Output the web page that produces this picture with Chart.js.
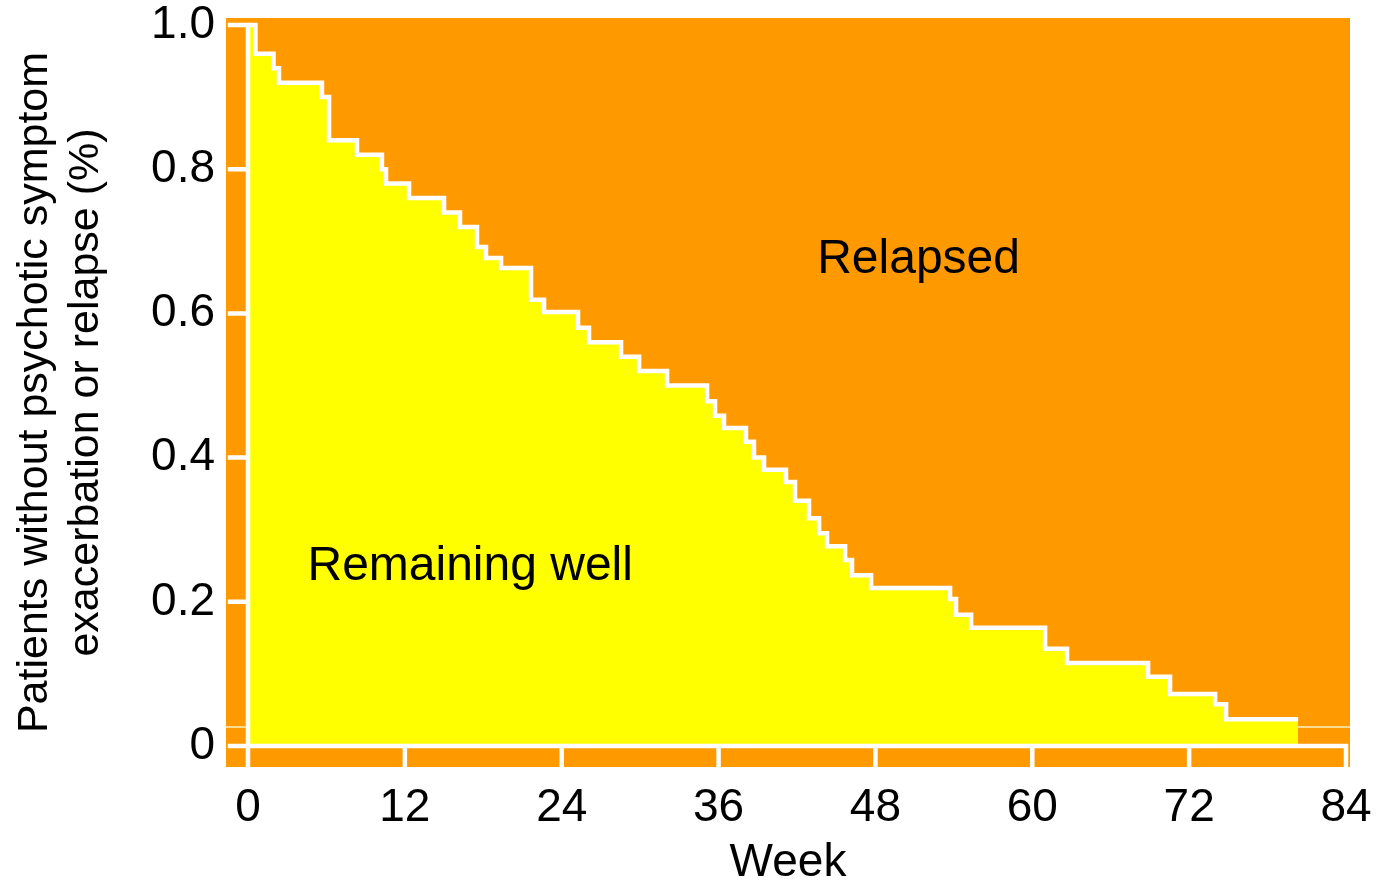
<!DOCTYPE html>
<html>
<head>
<meta charset="utf-8">
<title>Relapse-free survival</title>
<script src="https://cdn.jsdelivr.net/npm/chart.js@4.4.1/dist/chart.umd.min.js"></script>
<style>
  html, body { margin: 0; padding: 0; background: #fff; }
  #wrap { width: 1377px; height: 889px; position: relative; }
</style>
</head>
<body>
<div id="wrap"><canvas id="kmChart"></canvas></div>
<script>
// Kaplan-Meier steps (week of event, proportion still well)
const weeks = [0, 0.57, 1.95, 2.37, 5.66, 6.2, 8.34, 10.25, 10.56, 12.32, 15.0, 16.22, 17.52, 18.21, 19.36,
  21.65, 22.65, 25.25, 26.09, 28.54, 29.92, 32.06, 35.12, 35.73, 36.42, 38.1, 38.71, 39.48, 41.16, 41.85,
  42.92, 43.69, 44.3, 45.68, 46.21, 47.67, 53.71, 54.17, 55.32, 60.98, 62.66, 68.86, 70.54, 73.99, 74.83, 80.34];
const survival = [1.0, 0.96, 0.94, 0.92, 0.90, 0.84, 0.82, 0.80, 0.78, 0.76, 0.74, 0.72, 0.692, 0.677, 0.663,
  0.619, 0.602, 0.58, 0.56, 0.54, 0.52, 0.50, 0.478, 0.458, 0.441, 0.422, 0.40, 0.383, 0.366, 0.34,
  0.316, 0.295, 0.277, 0.258, 0.237, 0.219, 0.204, 0.182, 0.164, 0.135, 0.115, 0.096, 0.072, 0.058, 0.037, 0.037];

const xTicks = [0, 12, 24, 36, 48, 60, 72, 84];
const yTicks = [0, 0.2, 0.4, 0.6, 0.8, 1.0];

const areaLabels = ['Relapsed', 'Remaining well'];
const labelWeeks = [51.3, 17.0];
const labelValues = [0.675, 0.248];

// axis ranges (plot panel runs a bit past 0 and 84 / 0 and 1)
const xMin = -1.683, xMax = 84.306;
const yMin = -0.0291, yMax = 1.0097;
const tickLenX = -1.377;   // y tick marks stick out left of week 0
const tickLenY = -0.0264;  // x tick marks hang below 0

const ORANGE = '#FF9900';
const YELLOW = '#FFFF00';
const FONT = "'Liberation Sans', Arial, Helvetica, sans-serif";

Chart.defaults.font.family = FONT;
Chart.defaults.color = '#000';

const kmPoints = weeks.map((w, i) => ({ x: w, y: survival[i] }));

// white axis lines + tick marks, one path with gaps
const axisPoints = [];
axisPoints.push({ x: 0, y: tickLenY }, { x: 0, y: 1 }, { x: 0, y: null });
axisPoints.push({ x: tickLenX, y: 0 }, { x: 84, y: 0 }, { x: 84, y: null });
xTicks.forEach(t => axisPoints.push({ x: t, y: 0 }, { x: t, y: tickLenY }, { x: t, y: null }));
yTicks.forEach(v => axisPoints.push({ x: tickLenX, y: v }, { x: 0, y: v }, { x: 0, y: null }));

const panelBg = {
  id: 'panelBg',
  beforeDraw(chart) {
    const { ctx, chartArea: a } = chart;
    ctx.save();
    ctx.fillStyle = ORANGE;
    ctx.fillRect(a.left, a.top, a.right - a.left, a.bottom - a.top);
    ctx.restore();
  }
};

const areaText = {
  id: 'areaText',
  afterDatasetsDraw(chart) {
    const { ctx, scales } = chart;
    ctx.save();
    ctx.font = '48px ' + FONT;
    ctx.fillStyle = '#000';
    ctx.textAlign = 'center';
    ctx.textBaseline = 'middle';
    areaLabels.forEach((txt, i) => {
      ctx.fillText(txt, scales.x.getPixelForValue(labelWeeks[i]), scales.y.getPixelForValue(labelValues[i]));
    });
    ctx.restore();
  }
};

new Chart(document.getElementById('kmChart'), {
  type: 'line',
  data: {
    datasets: [
      {
        label: 'guide',
        data: [{ x: xMin, y: 0.0264 }, { x: xMax, y: 0.0264 }],
        borderColor: '#FFF2C0',
        borderWidth: 1.5,
        pointRadius: 0,
        fill: false,
        order: 3
      },
      {
        label: 'Remaining well',
        data: kmPoints,
        stepped: true,
        borderColor: '#FFFFFF',
        borderWidth: 4.5,
        backgroundColor: YELLOW,
        fill: 'origin',
        pointRadius: 0,
        order: 2
      },
      {
        label: 'axes',
        data: axisPoints,
        borderColor: '#FFFFFF',
        borderWidth: 4.5,
        borderCapStyle: 'square',
        spanGaps: false,
        pointRadius: 0,
        fill: false,
        order: 1
      }
    ]
  },
  options: {
    responsive: true,
    maintainAspectRatio: false,
    animation: false,
    layout: { padding: { top: 18, right: 27, bottom: 0, left: 0 } },
    plugins: {
      legend: { display: false },
      tooltip: { enabled: false }
    },
    scales: {
      x: {
        type: 'linear',
        min: xMin,
        max: xMax,
        afterBuildTicks: s => { s.ticks = xTicks.map(v => ({ value: v })); },
        afterFit: s => { s.height = 122; s.paddingLeft = 0; s.paddingRight = 0; },
        grid: { display: false, drawTicks: false },
        border: { display: false },
        ticks: {
          autoSkip: false,
          maxRotation: 0,
          minRotation: 0,
          padding: 14,
          font: { size: 46 },
          callback: v => String(v)
        },
        title: {
          display: true,
          text: 'Week',
          font: { size: 46, lineHeight: 1.1 },
          padding: { top: 0, bottom: 0 }
        }
      },
      y: {
        type: 'linear',
        min: yMin,
        max: yMax,
        afterBuildTicks: s => { s.ticks = yTicks.map(v => ({ value: v })); },
        afterFit: s => { s.width = 226; s.paddingTop = 0; s.paddingBottom = 0; },
        grid: { display: false, drawTicks: false },
        border: { display: false },
        ticks: {
          padding: 11,
          font: { size: 46 },
          callback: v => (v === 0 ? '0' : v.toFixed(1))
        },
        title: {
          display: true,
          text: ['Patients without psychotic symptom', 'exacerbation or relapse (%)'],
          font: { size: 43, lineHeight: 1.2 },
          padding: { top: 9, bottom: 0 }
        }
      }
    }
  },
  plugins: [panelBg, areaText]
});
</script>
</body>
</html>
